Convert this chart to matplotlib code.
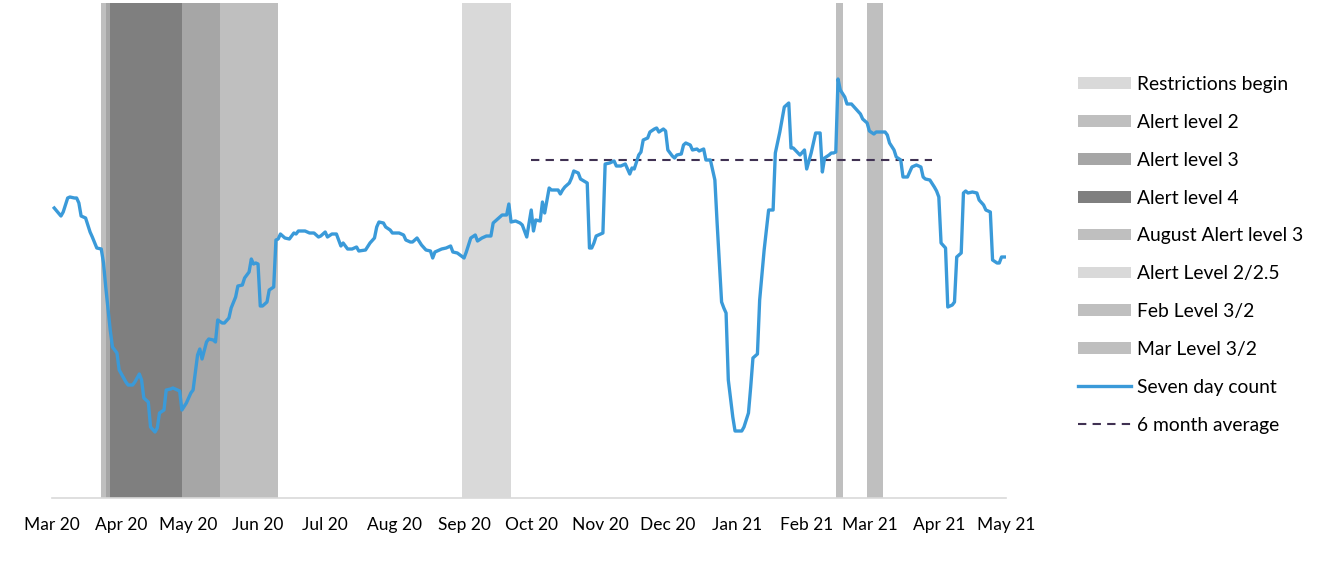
import matplotlib
matplotlib.use("Agg")
import matplotlib.pyplot as plt
import matplotlib.dates as mdates
from matplotlib.patches import Patch
from matplotlib.lines import Line2D
import pandas as pd

# Seven day count (days since 1 Mar 2020, arbitrary units)
start = pd.Timestamp("2020-03-01")
days = [1, 4, 5, 7, 8, 10, 11, 12, 13, 15, 17, 18, 20, 22, 23, 24, 26, 27, 29, 30,
        33, 34, 36, 37, 39, 40, 41, 43, 44, 46, 47, 48, 50, 51, 53, 54, 56, 57, 58, 60,
        62, 63, 65, 66, 67, 69, 70, 72, 73, 74, 76, 77, 79, 80, 82, 83, 85, 86, 88, 89,
        90, 91, 92, 93, 94, 96, 97, 99, 100, 101, 102, 104, 106, 108, 109, 110, 113, 115, 117, 119,
        120, 122, 123, 125, 127, 129, 130, 132, 134, 136, 137, 140, 142, 144, 145, 146, 148, 149, 151, 152,
        155, 157, 158, 160, 161, 163, 165, 167, 169, 170, 171, 174, 176, 178, 179, 181, 184, 185, 187, 189,
        190, 192, 194, 196, 197, 200, 201, 203, 204, 205, 207, 209, 210, 212, 214, 215, 216, 218, 219, 220,
        222, 223, 226, 227, 228, 229, 231, 232, 233, 235, 236, 239, 240, 241, 242, 243, 246, 247, 249, 251,
        252, 254, 256, 258, 259, 260, 262, 263, 264, 266, 267, 269, 270, 271, 273, 274, 275, 277, 278, 279,
        281, 282, 283, 285, 286, 288, 289, 291, 292, 294, 296, 297, 299, 300, 301, 302, 304, 305, 308, 309,
        311, 312, 313, 315, 316, 318, 320, 322, 323, 325, 327, 329, 330, 331, 334, 336, 337, 339, 341, 343,
        344, 345, 347, 348, 349, 350, 351, 352, 354, 355, 357, 359, 361, 362, 364, 365, 367, 368, 372, 373,
        374, 376, 377, 379, 380, 382, 384, 386, 388, 389, 390, 392, 394, 395, 396, 397, 399, 400, 402, 403,
        404, 406, 407, 408, 409, 411, 413, 414, 416, 417, 419, 420, 422, 423, 424, 426]
counts = [290, 282, 286, 300, 301, 300, 300, 295, 282, 280, 266, 261, 250, 249, 235, 211, 168, 151, 145, 128,
          116, 113, 113, 116, 124, 118, 100, 96, 71, 66, 70, 85, 88, 108, 109, 110, 108, 107, 88, 95,
          105, 108, 143, 149, 139, 156, 159, 158, 156, 178, 175, 175, 180, 190, 201, 212, 213, 220, 226, 239,
          234, 235, 234, 192, 192, 196, 208, 211, 258, 259, 264, 260, 259, 265, 264, 267, 267, 265, 265, 261,
          262, 266, 261, 264, 264, 252, 255, 249, 249, 251, 247, 248, 255, 260, 271, 276, 275, 271, 268, 265,
          265, 263, 258, 256, 256, 260, 253, 248, 247, 240, 246, 249, 250, 252, 246, 245, 240, 246, 260, 263,
          257, 260, 262, 262, 275, 281, 283, 283, 294, 276, 277, 275, 273, 261, 288, 267, 278, 277, 296, 285,
          310, 308, 308, 304, 308, 311, 315, 320, 327, 325, 319, 315, 250, 250, 255, 262, 265, 334, 335, 337,
          332, 332, 334, 324, 330, 329, 343, 346, 358, 360, 366, 369, 370, 366, 369, 367, 348, 342, 340, 343,
          344, 353, 355, 353, 348, 349, 347, 349, 338, 338, 318, 275, 196, 190, 185, 118, 81, 67, 67, 71,
          85, 111, 140, 144, 198, 248, 288, 288, 345, 366, 391, 395, 350, 350, 343, 348, 329, 345, 365, 365,
          326, 340, 343, 345, 345, 346, 419, 408, 401, 394, 394, 389, 384, 379, 375, 367, 364, 366, 366, 363,
          355, 348, 341, 338, 321, 321, 331, 333, 331, 321, 319, 318, 311, 307, 301, 255, 250, 191, 193, 196,
          241, 245, 305, 307, 305, 306, 305, 298, 293, 288, 286, 238, 235, 235, 241, 241]

# 6 month average
avg_start = "2020-10-01"
avg_end = "2021-03-29"
avg_value = 338

# alert level periods
legend_labels = ["Restrictions begin", "Alert level 2", "Alert level 3", "Alert level 4",
                 "August Alert level 3", "Alert Level 2/2.5", "Feb Level 3/2", "Mar Level 3/2"]
band_labels = ["Alert level 2", "Alert level 3", "Alert level 4", "Alert level 3", "Alert level 2",
               "Alert Level 2/2.5", "Feb Level 3/2", "Mar Level 3/2"]
band_starts = ["2020-03-23", "2020-03-25", "2020-03-27", "2020-04-28", "2020-05-15",
               "2020-08-31", "2021-02-14", "2021-02-28"]
band_ends = ["2020-03-25", "2020-03-27", "2020-04-28", "2020-05-15", "2020-06-10",
             "2020-09-22", "2021-02-17", "2021-03-07"]

colours = {"Restrictions begin": "#d9d9d9", "Alert level 2": "#bfbfbf", "Alert level 3": "#a6a6a6",
           "Alert level 4": "#7f7f7f", "August Alert level 3": "#bfbfbf", "Alert Level 2/2.5": "#d9d9d9",
           "Feb Level 3/2": "#bfbfbf", "Mar Level 3/2": "#bfbfbf"}
blue = "#3a9ad9"
purple = "#403152"

dates = start + pd.to_timedelta(days, unit="D")

fig = plt.figure(figsize=(13.39, 5.71), dpi=100)
ax = fig.add_axes([52 / 1339, 1 - 498 / 571, (1006 - 52) / 1339, 495 / 571])

for lab, s, e in zip(band_labels, band_starts, band_ends):
    ax.axvspan(pd.Timestamp(s), pd.Timestamp(e), color=colours[lab], lw=0, zorder=1)

ax.plot(dates, counts, color=blue, lw=2.4, zorder=3, solid_joinstyle="round")
ax.plot([pd.Timestamp(avg_start), pd.Timestamp(avg_end)], [avg_value, avg_value],
        color=purple, lw=1.5, ls=(0, (4, 3)), zorder=2)

ax.set_xlim(start, pd.Timestamp("2021-05-01"))
ax.set_ylim(0, 495)
ax.xaxis.set_major_locator(mdates.MonthLocator())
ax.xaxis.set_major_formatter(mdates.DateFormatter("%b %y"))
ax.tick_params(axis="x", length=0, pad=14, labelsize=12.5)
for t in ax.get_xticklabels():
    t.set_fontfamily("Lato")
ax.set_yticks([])
for side in ["left", "right", "top"]:
    ax.spines[side].set_visible(False)
ax.spines["bottom"].set_color("#d9d9d9")
ax.spines["bottom"].set_linewidth(1.2)

handles = [Patch(facecolor=colours[l], edgecolor="none") for l in legend_labels]
handles.append(Line2D([], [], color=blue, lw=2.4))
handles.append(Line2D([], [], color=purple, lw=1.5, ls=(0, (4, 3))))
labels = legend_labels + ["Seven day count", "6 month average"]
fig.legend(handles, labels, loc="upper left", bbox_to_anchor=(1078 / 1339, 1 - 76 / 571),
           frameon=False, prop={"family": "Lato", "size": 13.9}, handlelength=2.75,
           handleheight=0.55, handletextpad=0.32, labelspacing=1.08, borderpad=0, borderaxespad=0)

fig.savefig("out.png", dpi=100)
